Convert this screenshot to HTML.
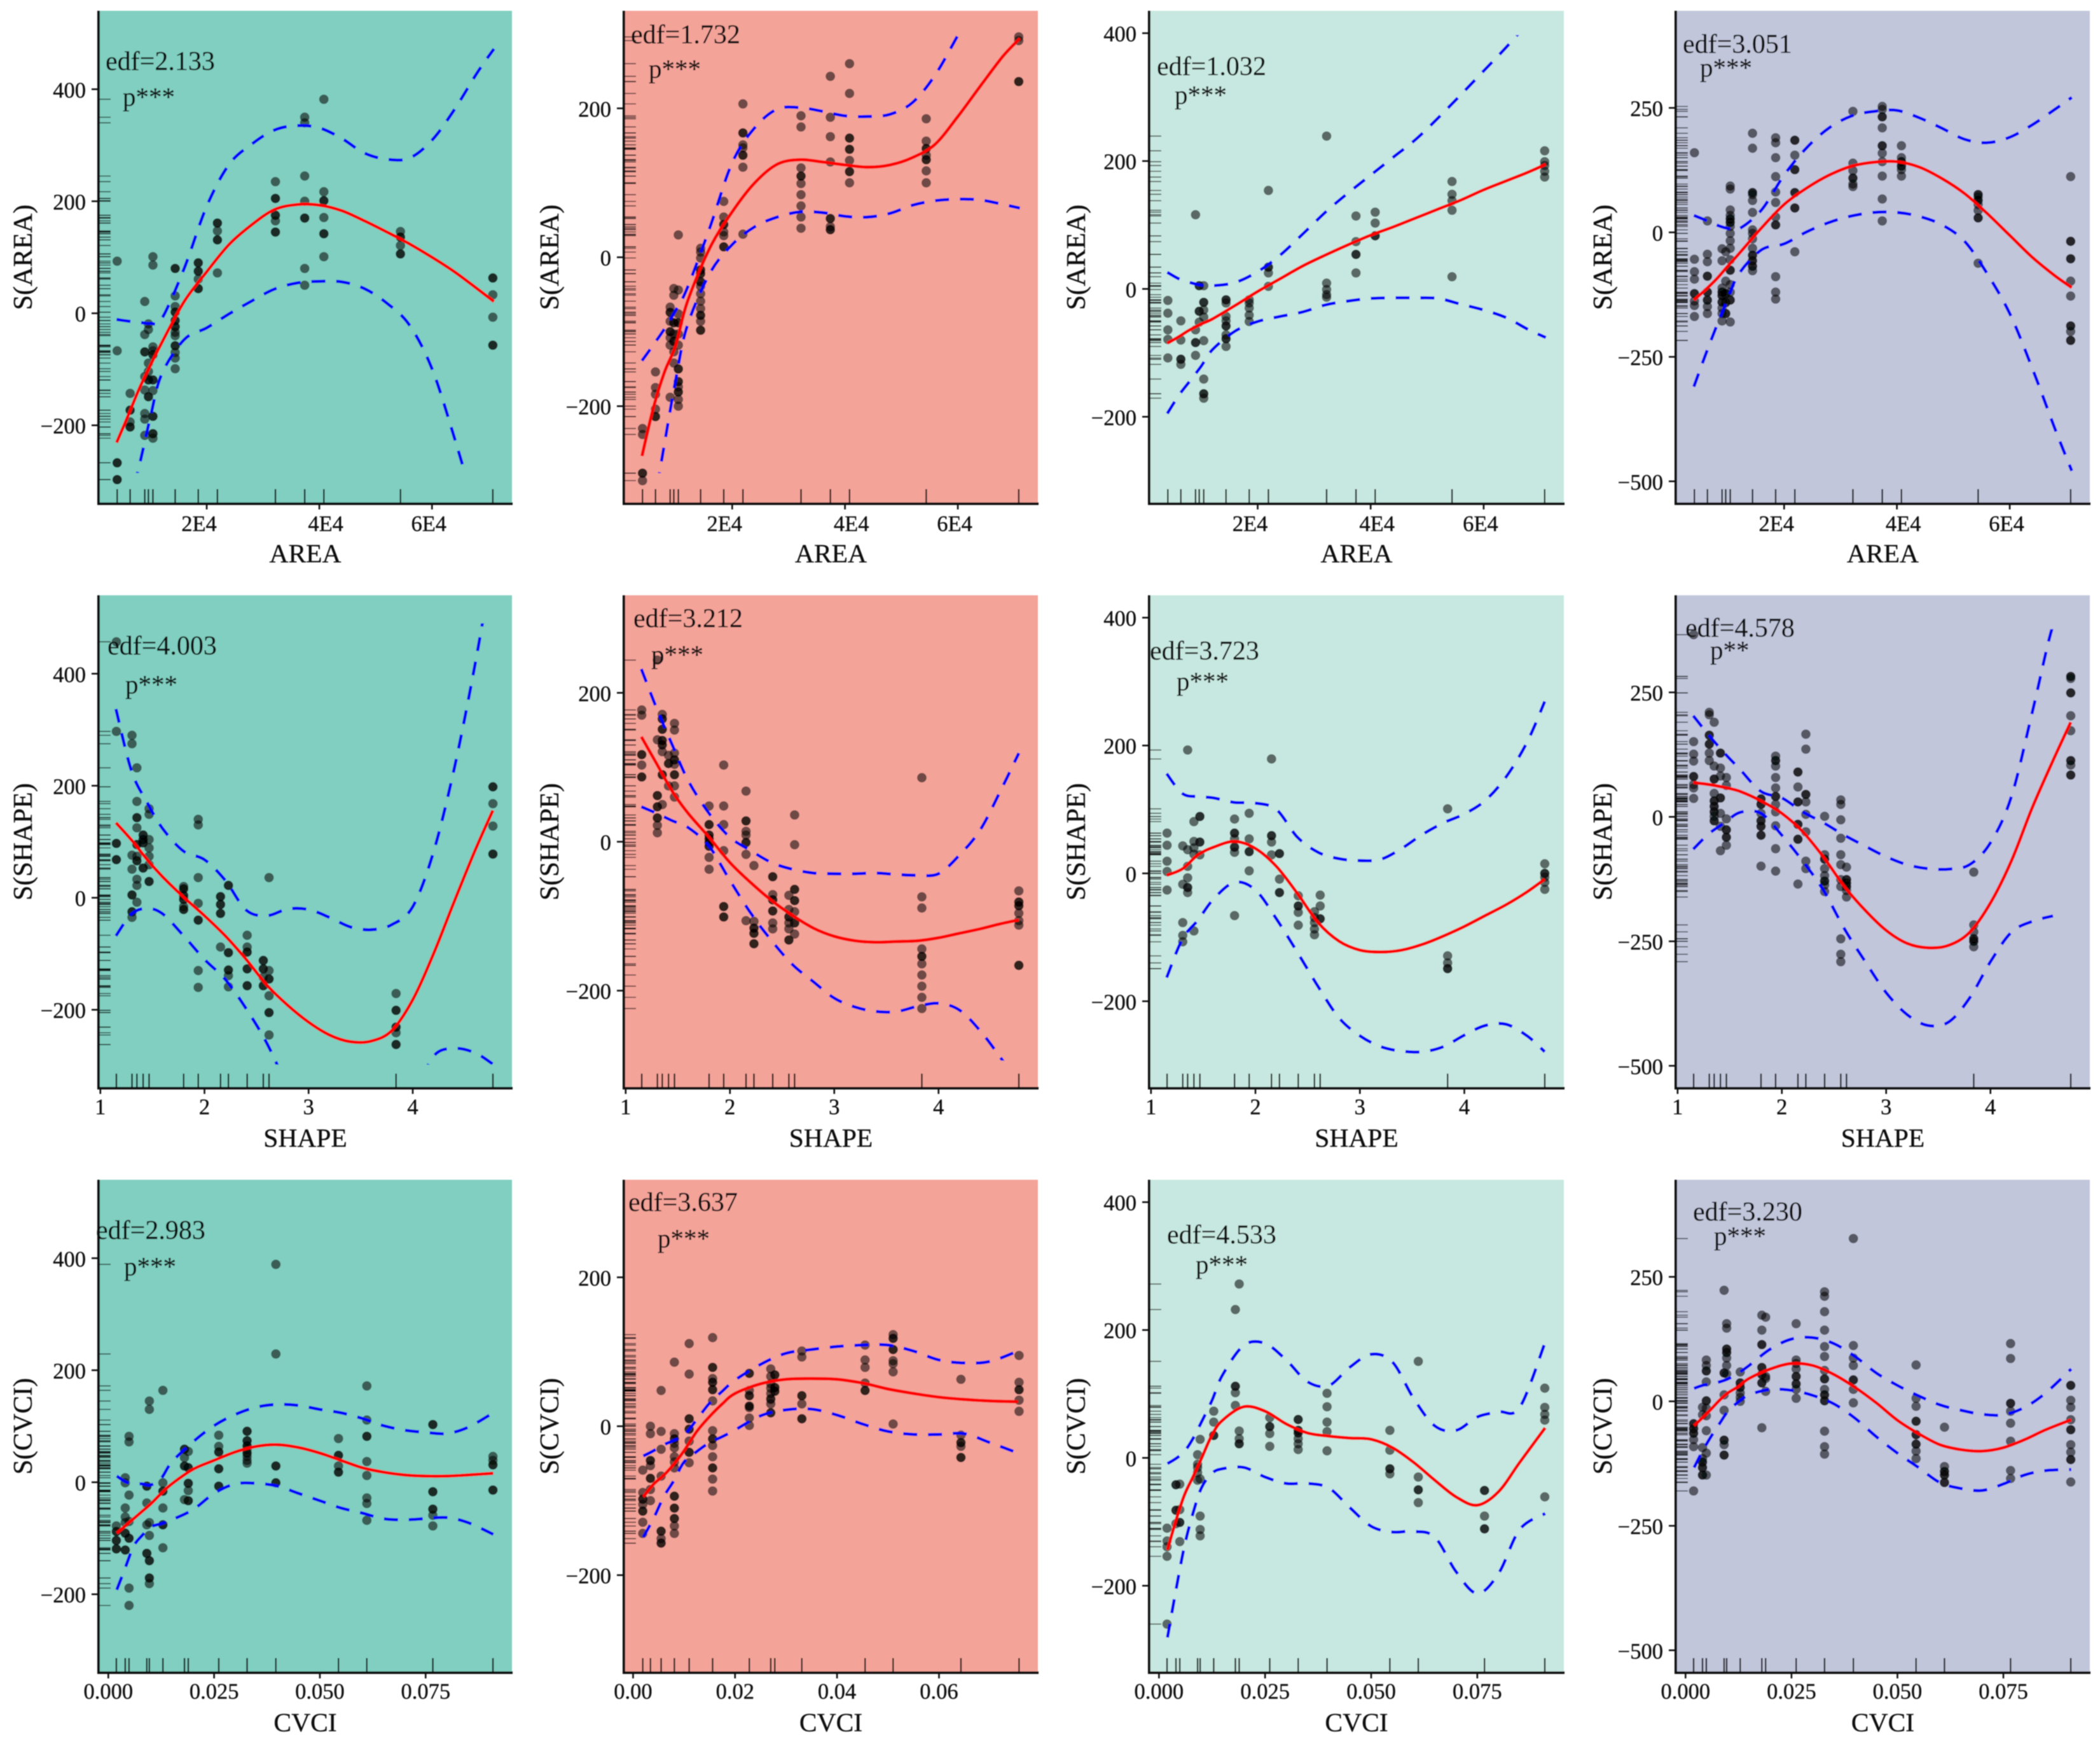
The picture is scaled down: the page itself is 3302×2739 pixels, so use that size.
<!DOCTYPE html>
<html lang="en">
<head>
<meta charset="utf-8">
<title>GAM smooth terms for AREA, SHAPE and CVCI</title>
<style>
html,body{margin:0;padding:0;background:#fff}
svg{display:block}
text{font-family:"Liberation Serif","Times New Roman",serif;fill:#111;stroke:#111;stroke-width:0.35px}
</style>
</head>
<body>
<svg id="fig" xmlns="http://www.w3.org/2000/svg" width="3302" height="2739" viewBox="0 0 3302 2739">
<defs><filter id="soft" x="-2%" y="-2%" width="104%" height="104%"><feGaussianBlur stdDeviation="0.9"/></filter></defs>
<rect x="0" y="0" width="3302" height="2739" fill="#ffffff"/>
<g id="root" filter="url(#soft)"></g>
</svg>
<script>
// Rug / dot column positions (predictor values)
const areaX=[4100,6400,9000,9650,10450,14400,18500,21900,32200,37400,40800,54400,70800];
const shapeX=[1.154,1.304,1.351,1.411,1.468,1.80,1.94,2.154,2.23,2.41,2.565,2.62,3.84,4.77];
const cvciX=[0.0019,0.0040,0.0049,0.0091,0.0097,0.0129,0.0180,0.0189,0.0261,0.0328,0.0396,0.0544,0.0611,0.0767,0.0909];
const cvciXb=[0.0019,0.0034,0.0055,0.0081,0.011,0.0156,0.0228,0.0270,0.0278,0.0331,0.0455,0.051,0.0643,0.0757];

// Curve sample positions
const areaGrid=[4000,6000,8000,10000,12000,16000,20000,24000,28000,32000,36000,40000,44000,48000,52000,56000,60000,64000,68000,71000];
const shapeGrid=[1.15,1.3,1.45,1.6,1.8,2.0,2.2,2.4,2.6,2.8,3.0,3.2,3.4,3.6,3.8,4.0,4.2,4.4,4.6,4.77];
const cvciGrid=[0.002,0.004,0.006,0.008,0.01,0.0125,0.015,0.02,0.025,0.03,0.035,0.04,0.045,0.05,0.055,0.06,0.065,0.07,0.075,0.08,0.085,0.091];
const cvciGridB=[0.002,0.004,0.006,0.008,0.01,0.0125,0.015,0.0175,0.02,0.025,0.03,0.035,0.04,0.045,0.05,0.055,0.06,0.065,0.07,0.0755];

// Axis ticks
const areaTicks=[20000,40000,60000];
const areaTickLabels=['2E4','4E4','6E4'];
const areaTickNudge=[-12,10,-5];
const shapeTicks=[1,2,3,4];
const shapeTickLabels=['1','2','3','4'];
const cvciTicks=[0,0.025,0.05,0.075];
const cvciTickLabels=['0.000','0.025','0.050','0.075'];
const cvciTicksB=[0,0.02,0.04,0.06];
const cvciTickLabelsB=['0.00','0.02','0.04','0.06'];
const yTicksA=[-200,0,200,400];
const yTicksB=[-200,0,200];
const yTicksD=[-500,-250,0,250];

// Panel 1: AREA, teal
const p1Dots=[[93,-67,-267,-267,-297,-297],[-143,-173,-173,-194,-203,-203],[21,-38,-69,-69,-113,-137,-179,-189,-218],[-19,-29,-89,-104,-119,-119,-149,-149],[101,86,-60,-67,-74,-74,-119,-119,-138,-184,-184,-215,-215,-223],[80,80,31,12,2,2,-13,-13,-24,-24,-34,-40,-58,-58,-70,-80,-99],[90,90,75,75,61,44,44],[161,161,147,131,131,72],[235,205,205,175,175,165,145,145],[350,340,245,200,170,170,80,50],[382,217,201,201,171,142,142,101],[146,136,136,121,106,106],[63,63,33,-7,-57,-57]];
const p1Fit=[-231,-184,-135,-93,-53,21,74,123,158,185,194,193,183,165,145,124,100,74,44,21];
const p1Upper=[-11,-14,-16,-18,-10,80,191,266,302,327,335,331,312,286,275,277,309,364,429,472];
const p1Lower=[null,-350,-273,-185,-109,-47,-26,-1,22,43,54,57,56,44,18,-21,-99,-223,-360,null];

// Panel 2: AREA, salmon
const p2Dots=[[-230,-238,-290,-290,-300],[-154,-175,-184,-204,-214,-214],[-67,-74,-74,-86,-100,-100,-108,-118,-188],[-42,-51,-88,-88,-103,-113,-113,-127,-142],[30,-44,-76,-88,-88,-103,-118,-150,-150,-167,-167,-174,-181,-181,-191,-200],[12,7,-1,-17,-17,-22,-22,-33,-33,-39,-49,-59,-69,-78,-78,-86,-98,-98],[75,54,44,44,34,29,14,14],[206,167,167,151,147,137,137,121,31],[190,175,120,109,109,99,84,69,54,39],[243,188,162,128,52,52,41,37,37],[260,220,160,160,145,145,130,115,115,100],[186,156,146,146,137,131,131,116,100],[296,291,236,236]];
const p2Fit=[-267,-203,-154,-118,-61,12,61,100,125,131,128,124,121,124,134,152,189,230,270,294];
const p2Upper=[-139,-118,-96,-71,-42,39,127,174,199,201,196,190,189,192,208,245,298,null,null,null];
const p2Lower=[null,-340,-250,-164,-93,-22,17,41,54,61,60,55,54,59,70,76,78,77,71,66];

// Panel 3: AREA, pale green
const p3Dots=[[-18,-38,-64,-79,-108],[-50,-80,-110,-110,-118],[116,-64,-84,-84,-104],[5,5,-35,-35,-52],[5,-21,-21,-33,-44,-81,-141,-164,-164,-171],[-17,-17,-22,-43,-50,-58,-58,-72,-78,-78,-90],[-17,-22,-30,-41,-51],[154,34,34,25,4],[239,9,-1,-9,-13],[114,74,54,54,25],[120,103,83,83],[168,148,138,123,19],[216,199,193,184,175]];
const p3Fit=[-85,-75,-64,-55,-47,-26,-4,16,36,53,69,84,97,111,125,139,155,169,183,195];
const p3Upper=[26,16,10,6,5,10,27,53,86,120,150,178,206,234,268,304,341,378,418,null];
const p3Lower=[-195,-167,-144,-121,-95,-66,-51,-43,-36,-25,-19,-15,-14,-14,-15,-24,-33,-45,-64,-76];

// Panel 4: AREA, lavender
const p4Dots=[[160,-54,-79,-94,-123,-123,-138,-147,-169],[23,-44,-59,-88,-88,-120,-120,-136,-136,-149,-163],[-33,-57,-112,-120,-120,-127,-127,-140,-140,-152,-163,-178],[-39,-98,-123,-123,-141,-141,-163,-163],[93,87,45,34,27,27,20,20,12,-2,-17,-32,-55,-76,-76,-105,-120,-136,-136,-180],[199,169,80,80,76,64,40,5,-2,-13,-32,-46,-46,-57,-57,-68,-68,-77],[190,180,150,112,81,60,31,15,15,-89,-120,-134],[185,185,155,126,126,80,80,49,49,-39],[243,139,124,109,109,97,92],[253,247,232,232,210,174,174,159,142,113,67,23],[174,150,142,142,133,133,126,113],[76,76,71,64,64,56,44,29,29,-62],[112,-18,-18,-53,-53,-98,-128,-188,-188,-199,-217,-217]];
const p4Fit=[-136,-116,-94,-68,-43,9,56,89,115,133,141,142,131,108,78,38,-6,-50,-87,-111];
const p4Upper=[34,25,15,8,7,45,115,170,210,234,243,245,230,209,187,180,191,216,247,271];
const p4Lower=[-310,-248,-189,-134,-83,-35,-23,1,20,33,40,40,32,15,-18,-83,-163,-273,-394,-479];

// Panel 5: SHAPE, teal
const p5Dots=[[457,297,97,97,68,68],[290,275,76,51,5,5,-25,-25,-35],[232,172,143,143,125,95,95,74,66,66,33,22,-8],[112,112,104,104,98,98,53,53],[159,149,104,89,74,59,29,29],[20,16,16,4,4,-3,-3,-16,-21,-21],[140,130,36,-10,-40,-40,-130,-160],[2,2,-12,-12,-28,-28,-88],[22,22,-98,-98,-129,-129,-139,-159],[-67,-88,-97,-97,-127,-127,-157,-157],[-112,-112,-127,-127,-142,-157,-157],[36,-130,-145,-145,-175,-205,-205,-245],[-171,-201,-201,-231,-231,-241,-262,-262],[198,198,168,128,78,78]];
const p5Fit=[134,103,68,37,1,-32,-68,-110,-156,-192,-222,-245,-257,-256,-237,-182,-100,-6,85,156];
const p5Upper=[337,226,170,123,83,68,31,-22,-32,-20,-21,-35,-52,-57,-48,-16,82,232,418,600];
const p5Lower=[-68,-29,-19,-29,-68,-110,-146,-198,-260,-340,null,null,null,null,null,-360,-283,-269,-277,-297];

// Panel 6: SHAPE, salmon
const p6Dots=[[177,170,117,117,103,87,87],[244,137,62,62,47,47,32,32,22,12],[171,165,165,151,151,136,136,130,130,121,90,90,50],[105,105,75,116],[159,150,119,110,110,104,90,90,75,60],[48,23,23,9,9,4,4,-1,-1,-6,-6,-21,-37],[103,48,23,-12,-87,-87,-101,-101],[68,28,28,14,9,-1,-1,-17,-106],[-32,-107,-116,-116,-123,-123,-137,-137],[-47,-47,-71,-78,-78,-93,-93,-109,-117],[-72,-91,-101,-101,-109,-117,-132,-132],[36,-4,-64,-64,-79,-79,-94,-109,-109,-124],[86,-74,-89,-144,-154,-154,-164,-179,-194,-209,-224],[-66,-81,-81,-86,-86,-96,-106,-112,-166,-166]];
const p6Fit=[141,104,67,38,6,-28,-55,-79,-99,-116,-127,-133,-135,-134,-133,-129,-123,-117,-110,-105];
const p6Upper=[232,178,129,82,38,6,-12,-28,-37,-42,-43,-43,-42,-44,-45,-43,-18,16,70,119];
const p6Lower=[47,38,28,19,-6,-52,-96,-133,-165,-188,-210,-222,-228,-228,-221,-217,-226,-254,-291,-325];

// Panel 7: SHAPE, pale green
const p7Dots=[[63,44,19,3,-26],[43,-17,-77,-97,-107],[193,37,11,-7,-22,-22,-30],[81,50,40,30,-90],[89,89,49,49,29],[85,63,63,54,41,41,33,-66],[94,54,34,34,4],[179,59,59,49,29],[31,31,-9,-30,-30],[-35,-51,-51,-61,-81],[-60,-69,-77,-87,-96],[-34,-51,-71,-71],[101,-129,-140,-149,-149],[15,0,0,-6,-14,-25]];
const p7Fit=[-3,7,29,41,50,39,11,-31,-77,-106,-120,-123,-120,-111,-98,-83,-66,-49,-29,-9];
const p7Upper=[156,125,120,118,111,110,100,57,33,23,20,22,39,61,79,93,114,151,205,269];
const p7Lower=[-163,-103,-73,-40,-14,-26,-71,-123,-177,-226,-254,-271,-278,-279,-271,-253,-238,-236,-254,-279];

// Panel 8: SHAPE, lavender
const p8Dots=[[366,151,126,112,81,81,65,58,37],[210,205,164,164,146,146,128,113],[190,102,76,76,47,32,32,21,21,10,10,1,-8,-8],[128,128,98,82,38,38,7,-19,-68],[79,63,-4,-26,-26,-41,-41,-57],[36,36,25,25,7,-8,-8,-19,-19,-37,-37,-99],[122,113,113,102,79,58,41,41,25,10,-18,-64,-109],[90,90,60,30,30,-15,-15,-45,-45,-135],[166,136,45,45,30,5,-30,-89,-104],[1,-76,-85,-85,-104,-118,-129,-129,-137,-150],[34,25,-6,-43,-76,-96,-126,-140,-245,-276,-291],[-101,-126,-126,-133,-133,-140,-140,-148,-161],[-111,-217,-231,-245,-245,-250,-250,-261],[282,282,278,249,249,203,173,113,113,104,84,84]];
const p8Fit=[69,65,59,51,32,7,-30,-81,-140,-188,-228,-254,-263,-258,-232,-173,-89,18,113,190];
const p8Upper=[203,164,128,95,51,38,10,-12,-37,-59,-80,-96,-104,-105,-96,-52,40,209,385,460];
const p8Lower=[-65,-34,-12,9,7,-37,-89,-148,-225,-291,-353,-397,-419,-412,-364,-291,-232,-210,-199,null];

// Panel 9: CVCI, teal
const p9Dots=[[-78,-88,-88,-104,-104,-119,-119],[8,-1,-46,-62,-72,-91,-91,-121,-121],[82,72,-23,-70,-100,-100,-189,-220],[-7,-7,-37,-76,-127,-127],[145,130,-72,-95,-140,-140,-171,-171,-181],[164,-1,-16,-16,-46,-76,-76,-117],[59,59,44,29,29,-31],[55,26,26,-2,-2,-15,-33,-33],[84,64,54,54,24,24,-7,-7],[91,91,74,74,65,65,59,52,52,46,39,34],[389,229,29,29,-1,-1],[78,48,48,29,18,18],[172,111,82,82,37,12,-28,-38,-68],[103,103,-17,-17,-48,-48,-59,-78],[46,39,31,31,-14,-14]];
const p9Fit=[-91,-78,-65,-52,-39,-20,-3,23,39,54,64,67,62,52,39,26,18,13,11,11,13,16];
const p9Upper=[11,1,-3,-3,-5,7,36,72,101,121,134,139,137,130,124,114,101,93,89,87,98,124];
const p9Lower=[-192,-153,-114,-95,-80,-74,-67,-49,-20,-3,-2,-7,-20,-33,-46,-55,-65,-67,-65,-63,-72,-93];

// Panel 10: CVCI, salmon
const p10Dots=[[-59,-89,-98,-98,-105,-114,-114,-129,-144],[0,-10,-46,-46,-53,-70,-70,-85,-100],[48,-7,-31,-67,-141,-141,-151,-157,-157],[86,-10,-17,-17,-23,-29,-41,-48,-56,-94,-94,-110,-110,-124,-124,-134,-144],[111,70,10,10,-4,-4,-20,-35,-35,-49],[119,79,79,64,59,59,49,49,34,-6,-17,-17,-26,-41,-56,-56,-71,-87],[71,71,48,41,41,27,27,25,11,1],[77,67,57,51,44,37,30,18,18,36],[69,69,52,52,47,47],[101,93,41,41,30,10,10],[109,89,79,58,48,48],[123,118,118,103,103,88,84,73,3],[63,-12,-22,-22,-27,-42,-42],[95,59,49,49,35,20]];
const p10Fit=[-95,-78,-66,-51,-33,-7,13,30,44,57,63,64,63,58,50,44,39,36,34,33];
const p10Upper=[-40,-33,-25,-19,-12,9,31,47,62,83,98,103,107,109,109,101,89,85,87,101];
const p10Lower=[-149,-124,-95,-73,-48,-34,-22,-14,-5,14,22,23,15,3,-7,-11,-11,-10,-22,-36];

// Panel 11: CVCI, pale green
const p11Dots=[[-110,-130,-139,-154,-260],[-42,-42,-82,-82,-103],[-41,-81,-101,-101,-131],[5,-10,-15,-23,-35],[29,-33,-91,-112,-122],[73,56,35,35],[232,112,112,102,82],[272,42,30,22,22],[63,49,49,38,18],[60,60,43,43,39,39,30,22,13],[101,80,56,41,11],[43,12,-17,-17,-25],[151,-30,-50,-50,-70],[-51,-51,-91,-111,-111],[109,79,68,59,-61]];
const p11Fit=[-144,-98,-58,-30,-1,36,59,80,73,53,39,34,31,29,16,-7,-35,-61,-74,-53,-7,47];
const p11Upper=[-9,-1,10,30,56,90,130,176,179,153,119,113,142,162,150,93,50,43,64,72,79,181];
const p11Lower=[-281,-207,-138,-87,-47,-24,-17,-15,-30,-40,-40,-47,-78,-107,-116,-115,-124,-178,-212,-181,-112,-87];

// Panel 12: CVCI, lavender
const p12Dots=[[-45,-45,-55,-55,-64,-64,-77,-91,-180],[-12,-27,-93,-115,-122,-122,-133,-133,-148,-148],[83,72,61,61,39,1,1,-14,-29,-59,-104,-148],[223,57,57,13,-18,-78,-78,-87,-108,-108],[156,147,105,105,98,98,87,72,55],[59,37,37,28,28,17,8,0],[173,143,114,114,68,68,54,54,37,37,-53],[169,50,20,46],[156,83,76,65,50,50,35,35,24,6],[220,211,180,143,110,90,62,45,45,24,13,13,1,1,-60,-91,-106],[327,112,87,72,43,43,24,-3],[73,6,-10,-40,-40,-67,-67,-86,-86,-100,-115],[-52,-131,-141,-141,-148,-148,-163,-163],[116,86,-4,-4,-20,-44,-80,-139,-155],[32,32,2,-12,-37,-57,-57,-87,-102,-117,-117,-162]];
const p12Fit=[-49,-33,-16,2,17,30,46,65,76,72,54,28,-3,-38,-65,-87,-97,-100,-93,-77,-57,-37];
const p12Upper=[26,32,35,39,45,57,72,105,125,128,116,90,57,32,11,-7,-18,-26,-27,-12,17,65];
const p12Lower=[-133,-100,-71,-45,-20,-1,13,24,22,12,-5,-34,-71,-104,-133,-163,-175,-179,-166,-148,-139,-137];

// Panel captions
const edfLabels=['edf=2.133','edf=1.732','edf=1.032','edf=3.051','edf=4.003','edf=3.212','edf=3.723','edf=4.578','edf=2.983','edf=3.637','edf=4.533','edf=3.230'];
const pLabels=['p***','p***','p***','p***','p***','p***','p***','p**','p***','p***','p***','p***'];

const SVGNS='http://www.w3.org/2000/svg';
const root=document.getElementById('root');
const defs=document.querySelector('#fig defs');

const colRects=[[155,805],[981,1632],[1807,2459],[2635,3286]];
const rowRects=[[17,792],[936,1711],[1855,2630]];
const colFill=['#80cfc0','#f4a399','#c7e8e0','#c1c6db'];
const colY=[[-340,540],[-331,331],[-336,435],[-545,445]];
const colYTicks=[yTicksA,yTicksB,yTicksA,yTicksD];
const yTitleX=[50,878,1706,2534];
const rowInfo=[
 {name:'AREA',dom:[800,74200],col:areaX,grid:areaGrid,ticks:areaTicks,labels:areaTickLabels,nudge:areaTickNudge,tickBase:835,titleBase:884},
 {name:'SHAPE',dom:[0.983,4.953],col:shapeX,grid:shapeGrid,ticks:shapeTicks,labels:shapeTickLabels,nudge:[0,0,0,0],tickBase:1752,titleBase:1803},
 {name:'CVCI',dom:[-0.0023,0.0954],col:cvciX,grid:cvciGrid,ticks:cvciTicks,labels:cvciTickLabels,nudge:[0,0,0,0],tickBase:2671,titleBase:2722}
];
const cvciAlt={dom:[-0.0018,0.0794],col:cvciXb,grid:cvciGridB,ticks:cvciTicksB,labels:cvciTickLabelsB};

const panels=[
 {d:p1Dots,f:p1Fit,u:p1Upper,l:p1Lower,cMin:-285,cMax:480,ex:166,ey:110,px:193,py:166},
 {d:p2Dots,f:p2Fit,u:p2Upper,l:p2Lower,cMin:-290,cMax:300,ex:992,ey:68,px:1020,py:122},
 {d:p3Dots,f:p3Fit,u:p3Upper,l:p3Lower,cMin:-336,cMax:397,ex:1819,ey:118,px:1847,py:163},
 {d:p4Dots,f:p4Fit,u:p4Upper,l:p4Lower,cMin:-545,cMax:445,ex:2646,ey:83,px:2673,py:120},
 {d:p5Dots,f:p5Fit,u:p5Upper,l:p5Lower,cMin:-298,cMax:490,ex:169,ey:1029,px:197,py:1090},
 {d:p6Dots,f:p6Fit,u:p6Upper,l:p6Lower,cMin:-294,cMax:331,ex:996,ey:986,px:1024,py:1043},
 {d:p7Dots,f:p7Fit,u:p7Upper,l:p7Lower,cMin:-336,cMax:435,ex:1808,ey:1037,px:1850,py:1085},
 {d:p8Dots,f:p8Fit,u:p8Upper,l:p8Lower,cMin:-545,cMax:377,ex:2650,ey:1001,px:2689,py:1036},
 {d:p9Dots,f:p9Fit,u:p9Upper,l:p9Lower,cMin:-340,cMax:540,ex:151,ey:1948,px:195,py:2005},
 {d:p10Dots,f:p10Fit,u:p10Upper,l:p10Lower,cMin:-331,cMax:331,ex:988,ey:1904,px:1034,py:1961},
 {d:p11Dots,f:p11Fit,u:p11Upper,l:p11Lower,cMin:-336,cMax:435,ex:1835,ey:1955,px:1880,py:2002},
 {d:p12Dots,f:p12Fit,u:p12Upper,l:p12Lower,cMin:-545,cMax:445,ex:2662,ey:1919,px:2695,py:1957}
];

function mk(tag,parent,attrs){
  const e=document.createElementNS(SVGNS,tag);
  for(const k in attrs){e.setAttribute(k,attrs[k]);}
  parent.appendChild(e);
  return e;
}
function smooth(pts){
  let s='M'+pts[0][0].toFixed(1)+' '+pts[0][1].toFixed(1);
  for(let i=0;i<pts.length-1;i++){
    const p0=pts[Math.max(i-1,0)],p1=pts[i],p2=pts[i+1],p3=pts[Math.min(i+2,pts.length-1)];
    const c1x=p1[0]+(p2[0]-p0[0])/6,c1y=p1[1]+(p2[1]-p0[1])/6;
    const c2x=p2[0]-(p3[0]-p1[0])/6,c2y=p2[1]-(p3[1]-p1[1])/6;
    s+=' C'+c1x.toFixed(1)+' '+c1y.toFixed(1)+' '+c2x.toFixed(1)+' '+c2y.toFixed(1)+' '+p2[0].toFixed(1)+' '+p2[1].toFixed(1);
  }
  return s;
}
function curvePath(grid,vals,sx,sy){
  let out='',seg=[];
  vals.forEach(function(v,i){
    if(v===null){ if(seg.length>1){out+=smooth(seg)+' ';} seg=[]; }
    else{ seg.push([sx(grid[i]),sy(v)]); }
  });
  if(seg.length>1){out+=smooth(seg);}
  return out;
}

panels.forEach(function(p,idx){
  const c=idx%4,r=Math.floor(idx/4);
  let info=rowInfo[r];
  const isB=(idx===9);
  const dom=isB?cvciAlt.dom:info.dom;
  const colX=isB?cvciAlt.col:info.col;
  const grid=isB?cvciAlt.grid:info.grid;
  const xt=isB?cvciAlt.ticks:info.ticks;
  const xl=isB?cvciAlt.labels:info.labels;
  const L=colRects[c][0],R=colRects[c][1],T=rowRects[r][0],B=rowRects[r][1];
  const yd=colY[c];
  const sx=function(v){return L+(v-dom[0])/(dom[1]-dom[0])*(R-L);};
  const sy=function(v){return B-(v-yd[0])/(yd[1]-yd[0])*(B-T);};

  const g=mk('g',root,{});
  
  

  const bg=mk('rect',g,{x:L,y:T,width:R-L,height:B-T,fill:colFill[c]});
  
  

  const clip=mk('clipPath',defs,{id:'band'+idx});
  mk('rect',clip,{x:L,y:sy(p.cMax),width:R-L,height:sy(p.cMin)-sy(p.cMax)});

  // rugs along the axes
  colX.forEach(function(xv){
    const rug=mk('line',g,{x1:sx(xv),x2:sx(xv),y1:B,y2:B-23,stroke:'#000','stroke-width':2.4,'stroke-opacity':0.85});
    
    
  });
  p.d.forEach(function(list){
    list.forEach(function(yv){
      const rug=mk('line',g,{x1:L,x2:L+19,y1:sy(yv),y2:sy(yv),stroke:'#000','stroke-width':1.7,'stroke-opacity':0.6});
      
      
    });
  });

  // partial-residual dots
  p.d.forEach(function(list,i){
    list.forEach(function(yv){
      const dot=mk('circle',g,{cx:sx(colX[i]),cy:sy(yv),r:7.4,fill:'#000','fill-opacity':0.55});
      
      
    });
  });

  // confidence band and fit
  const up=mk('path',g,{d:curvePath(grid,p.u,sx,sy),fill:'none',stroke:'#0505ff','stroke-width':4.8,'stroke-dasharray':'22 17','clip-path':'url(#band'+idx+')'});
  
  
  const lo=mk('path',g,{d:curvePath(grid,p.l,sx,sy),fill:'none',stroke:'#0505ff','stroke-width':4.8,'stroke-dasharray':'22 17','clip-path':'url(#band'+idx+')'});
  
  
  const fit=mk('path',g,{d:curvePath(grid,p.f,sx,sy),fill:'none',stroke:'#ff0000','stroke-width':5});
  
  

  // axes
  const ya=mk('line',g,{x1:L,x2:L,y1:T,y2:B+2,stroke:'#0a0a0a','stroke-width':4});
  
  
  const xa=mk('line',g,{x1:L-2,x2:R+1,y1:B,y2:B,stroke:'#0a0a0a','stroke-width':4});
  
  

  xt.forEach(function(v,i){
    const t=mk('line',g,{x1:sx(v),x2:sx(v),y1:B,y2:B+9,stroke:'#111','stroke-width':2.6});
    
    
    const lab=mk('text',g,{x:sx(v)+(isB?0:info.nudge[i]),y:info.tickBase,'text-anchor':'middle','font-size':34.5});
    lab.textContent=xl[i];
    
    
  });
  colYTicks[c].forEach(function(v){
    const t=mk('line',g,{x1:L-11,x2:L,y1:sy(v),y2:sy(v),stroke:'#111','stroke-width':2.6});
    
    
    const lab=mk('text',g,{x:L-20,y:sy(v)+13,'text-anchor':'end','font-size':34.5});
    lab.textContent=(v<0?'\u2212'+(-v):''+v);
    
    
  });

  const xtitle=mk('text',g,{x:(L+R)/2,y:info.titleBase,'text-anchor':'middle','font-size':41.5});
  xtitle.textContent=info.name;
  
  

  const ytitle=mk('text',g,{x:0,y:0,'text-anchor':'middle','font-size':42,transform:'translate('+yTitleX[c]+' '+((T+B)/2)+') rotate(-90)'});
  ytitle.textContent='S('+info.name+')';
  
  

  const edf=mk('text',g,{x:p.ex,y:p.ey,'font-size':42});
  edf.textContent=edfLabels[idx];
  
  

  const pv=mk('text',g,{x:p.px,y:p.py,'font-size':41});
  pv.textContent=pLabels[idx];
  
  
});
</script>
</body>
</html>
